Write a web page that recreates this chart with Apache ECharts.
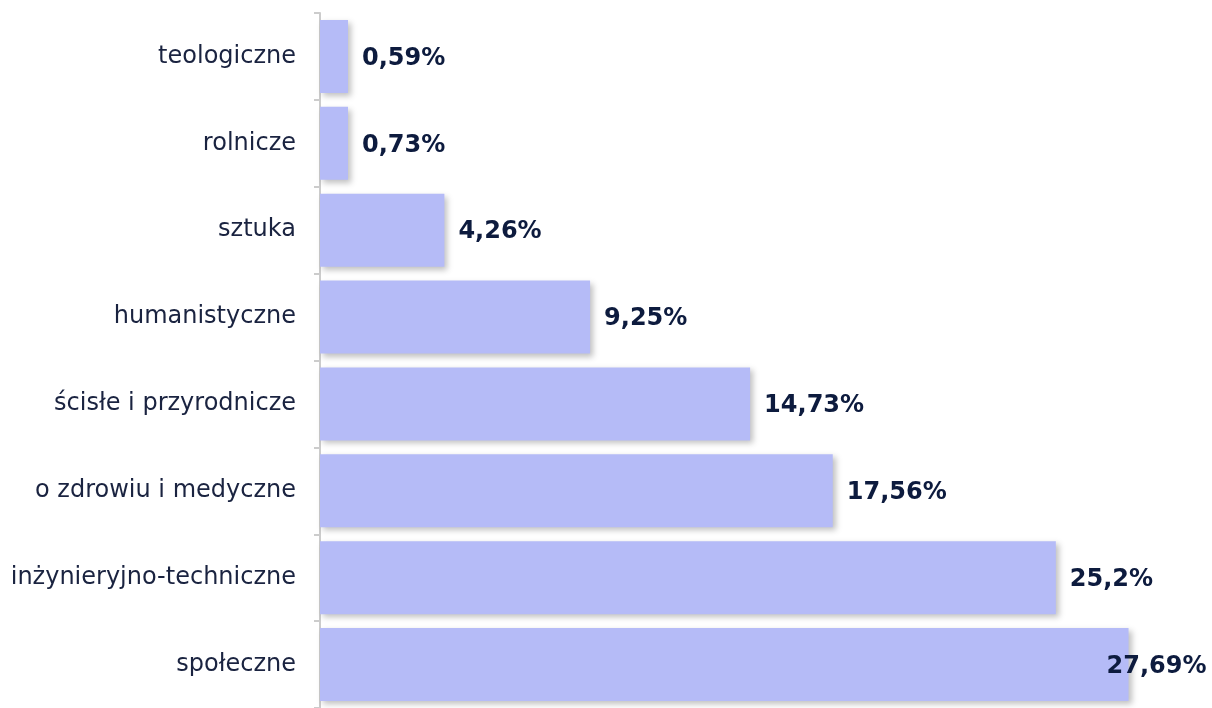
<!DOCTYPE html>
<html>
<head>
<meta charset="utf-8">
<script src="https://cdn.jsdelivr.net/npm/echarts@6/dist/echarts.min.js"></script>
<style>
    html, body { margin: 0; padding: 0; background: #fff; }
    #chart { width: 1212px; height: 708px; }
</style>
</head>
<body>
<div id="chart"></div>
<script>
// kierunki studiów, od góry
const categories = ['teologiczne', 'rolnicze', 'sztuka', 'humanistyczne', 'ścisłe i przyrodnicze', 'o zdrowiu i medyczne', 'inżynieryjno-techniczne', 'społeczne'];
const values = [0.59, 0.73, 4.26, 9.25, 14.73, 17.56, 25.2, 27.69];

const chart = echarts.init(document.getElementById('chart'));

const fmt = v => String(v).replace('.', ',') + '%';

const option = {
    animation: false,
    grid: {
        left: 320,
        right: 16,
        top: 13,
        height: 704
    },
    xAxis: {
        type: 'value',
        min: 0,
        max: 30,
        show: false
    },
    yAxis: {
        type: 'category',
        inverse: true,
        data: categories,
        axisLine: { show: true, lineStyle: { color: '#cccccc', width: 2 } },
        axisTick: { show: true, length: 6, lineStyle: { color: '#cccccc', width: 2 } },
        axisLabel: {
            margin: 24,
            padding: [5, 0, 0, 0],
            fontFamily: 'DejaVu Sans',
            fontSize: 24,
            color: '#1a2340'
        }
    },
    series: [{
        type: 'bar',
        barWidth: 73,
        barMinHeight: 28,
        data: values.map((v, i) => {
            const d = { value: v };
            // ostatnia etykieta nie mieści się za słupkiem
            if (i === values.length - 1) d.label = { offset: [-36, 2] };
            return d;
        }),
        itemStyle: {
            color: '#b5bbf7',
            shadowColor: 'rgba(0,0,0,0.25)',
            shadowBlur: 6,
            shadowOffsetX: 3,
            shadowOffsetY: 3
        },
        label: {
            show: true,
            position: 'right',
            distance: 14,
            offset: [0, 2],
            formatter: p => fmt(p.value),
            fontFamily: 'DejaVu Sans',
            fontWeight: 'bold',
            fontSize: 24,
            color: '#0d1b3e'
        }
    }]
};

chart.setOption(option);
</script>
</body>
</html>
